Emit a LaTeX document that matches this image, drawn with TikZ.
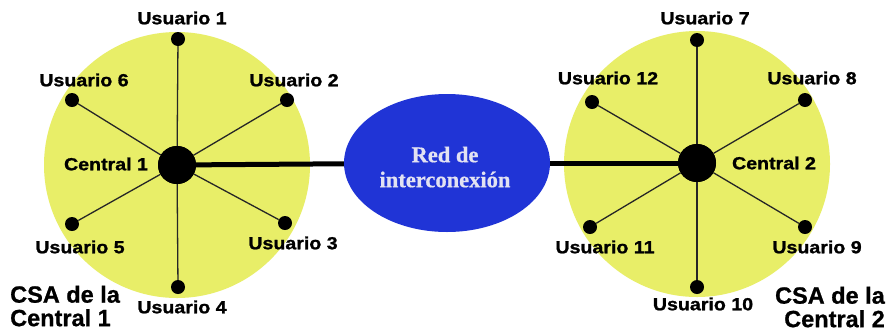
\documentclass[tikz,border=0pt]{standalone}
\usepackage{fontspec}
\setmainfont{Liberation Sans}
\newfontfamily\lblfont[FakeStretch=1.12,FakeBold=1.2]{Liberation Sans}
\newfontfamily\csafont[FakeBold=0.8]{Liberation Sans}
\newfontfamily\redfont[FakeBold=0.6]{Liberation Serif}
\usetikzlibrary{shapes.geometric}
\definecolor{zoneyellow}{RGB}{232,238,104}
\definecolor{netblue}{RGB}{32,52,214}
\definecolor{nettext}{RGB}{226,226,242}
\tikzset{
  zone/.style={circle,fill=zoneyellow,draw=none,minimum size=266pt,inner sep=0pt},
  hub/.style={circle,fill=black,minimum size=38pt,inner sep=0pt},
  user/.style={circle,fill=black,minimum size=14pt,inner sep=0pt},
  spoke/.style={line width=1.3pt,draw=black!85},
  trunk/.style={line width=5pt,draw=black},
  lbl/.style={font=\lblfont\bfseries\fontsize{17.5}{19}\selectfont,inner sep=0pt},
  csa/.style={font=\csafont\bfseries\fontsize{23.5}{23.5}\selectfont,inner sep=0pt,align=left},
  net/.style={ellipse,fill=netblue,minimum width=206pt,minimum height=138pt,inner sep=0pt},
  nettxt/.style={text=nettext,align=center,inner sep=0pt,font=\redfont\bfseries\fontsize{22.5}{25}\selectfont}
}
\begin{document}
\begin{tikzpicture}[x=1pt,y=-1pt]
\useasboundingbox (0,0) rectangle (890,333);
\fill[white] (0,0) rectangle (890,333);
% zones
\node[zone] (z1) at (177,165) {};
\node[zone] (z2) at (697,164) {};
% hubs
\node[hub] (c1) at (177,165) {};
\node[hub] (c2) at (697,163) {};
% network
\node[net] (net) at (447,163) {};
\node[nettxt] (nettext) at (445,167) {Red de\\interconexi\'on};
% trunk
\draw[trunk] (c1) -- (net);
\draw[trunk] (net) -- (c2);
% users left
\node[user] (u1) at (178,39) {};
\node[user] (u2) at (287,100) {};
\node[user] (u3) at (285,223) {};
\node[user] (u4) at (178,287) {};
\node[user] (u5) at (72,224) {};
\node[user] (u6) at (72,100) {};
% users right
\node[user] (u7) at (697,40) {};
\node[user] (u8) at (805,100) {};
\node[user] (u9) at (805,227) {};
\node[user] (u10) at (697,287) {};
\node[user] (u11) at (590,227) {};
\node[user] (u12) at (592,102) {};
% spokes
\foreach \u in {u1,u2,u3,u4,u5,u6} \draw[spoke] (c1) -- (\u);
\foreach \u in {u7,u8,u9,u10,u11,u12} \draw[spoke] (c2) -- (\u);
\node[hub] at (c1) {};
\node[hub] at (c2) {};
% labels
\node[lbl] (l1) at (182,18) {Usuario 1};
\node[lbl] (l2) at (294,80) {Usuario 2};
\node[lbl] (l3) at (293,243) {Usuario 3};
\node[lbl] (l4) at (182,307) {Usuario 4};
\node[lbl] (l5) at (80,247) {Usuario 5};
\node[lbl] (l6) at (84,80) {Usuario 6};
\node[lbl] (lc1) at (106,164) {Central 1};
\node[lbl] (l7) at (705,18) {Usuario 7};
\node[lbl] (l8) at (812,78) {Usuario 8};
\node[lbl] (l9) at (817,247) {Usuario 9};
\node[lbl] (l10) at (703,304) {Usuario 10};
\node[lbl] (l11) at (605,247) {Usuario 11};
\node[lbl] (l12) at (608,78) {Usuario 12};
\node[lbl] (lc2) at (774,163) {Central 2};
\node[csa,anchor=west] (csa1) at (10,306) {CSA de la\\Central 1};
\node[csa,anchor=east,align=right] (csa2) at (885,307) {CSA de la\\Central 2};
\end{tikzpicture}
\end{document}
